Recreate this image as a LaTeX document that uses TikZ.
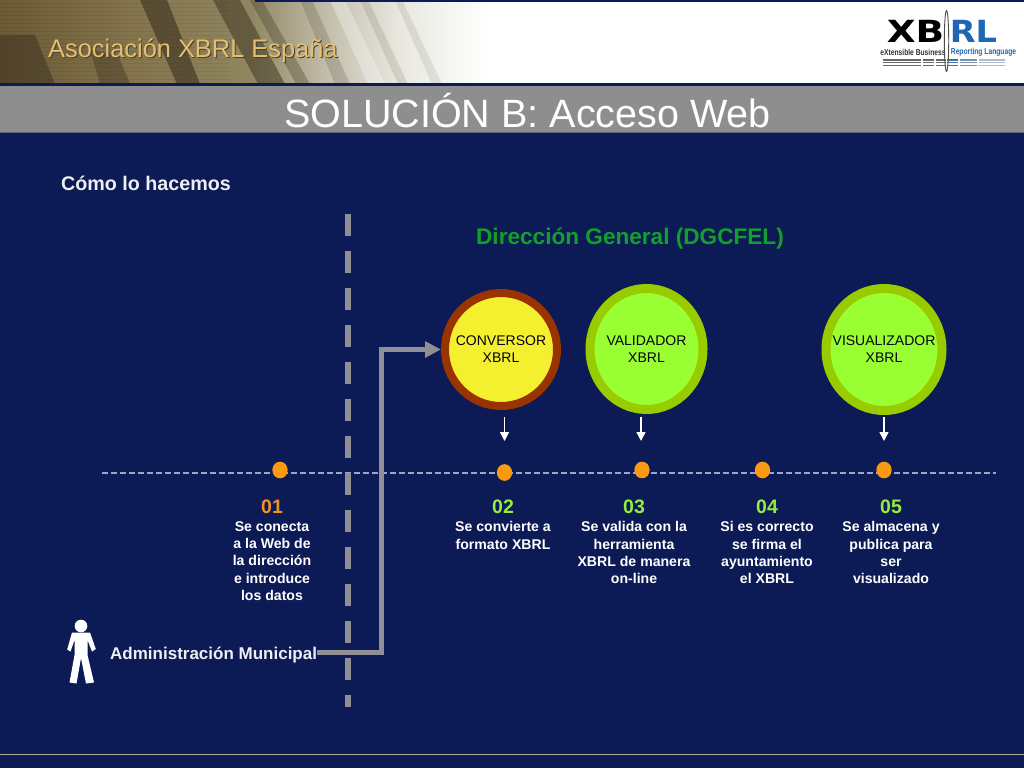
\documentclass[tikz,border=0pt]{standalone}
\usepackage{fontspec}
\setmainfont{Liberation Sans}
\newfontfamily\logofont{DejaVu Sans}
\usetikzlibrary{arrows.meta,calc,shapes.geometric}
\definecolor{navy}{HTML}{0C1A55}
\definecolor{bandgray}{HTML}{8E8E8E}
\definecolor{tanA}{HTML}{6A5A36}
\definecolor{tanB}{HTML}{85764E}
\definecolor{tanC}{HTML}{8F8660}
\definecolor{tanE}{HTML}{C5C0AE}
\definecolor{tanF}{HTML}{E8E8E0}
\definecolor{tanD}{HTML}{3A3020}
\definecolor{gold}{HTML}{E8C06A}
\definecolor{orangedot}{HTML}{FB9A12}
\definecolor{orangenum}{HTML}{EE9420}
\definecolor{greennum}{HTML}{93EE3E}
\definecolor{linegray}{HTML}{8F8F97}
\definecolor{timeline}{HTML}{9FA2C6}
\definecolor{dgreen}{HTML}{12A02C}
\definecolor{limefill}{HTML}{99FF33}
\definecolor{limering}{HTML}{99CC00}
\definecolor{yellowfill}{HTML}{F5F02F}
\definecolor{brownring}{HTML}{993300}
\definecolor{xblue}{HTML}{1F66B5}
\definecolor{xgray}{HTML}{6A6A6A}
\pgfdeclarehorizontalshading{hdrshade}{100bp}{color(0bp)=(tanA); color(25bp)=(tanA); color(39bp)=(tanB); color(50bp)=(tanC); color(58bp)=(tanE); color(65bp)=(tanF); color(74bp)=(white); color(100bp)=(white)}
\tikzset{
  stepdot/.style={ellipse,fill=orangedot,draw=none,minimum width=15.3pt,minimum height=16.7pt,inner sep=0pt},
  stepnum/.style={font=\fontsize{19.5}{21}\selectfont\bfseries,anchor=center},
  stepbody/.style={font=\fontsize{14.1}{17.3}\selectfont\bfseries,text=white,align=center,anchor=north},
  tool/.style={ellipse,inner sep=0pt,line width=9pt,font=\fontsize{14}{17}\selectfont,text=black!85!navy,align=center},
  dropline/.style={draw=white,line width=1.5pt,-{Triangle[length=9pt,width=9pt]}},
  logotext/.style={anchor=center,inner sep=0pt,font=\fontsize{8.6}{9}\selectfont\bfseries}
}
\begin{document}
\begin{tikzpicture}[x=1pt,y=-1pt]
\useasboundingbox (0,0) rectangle (1024,768);
% background
\fill[navy] (0,0) rectangle (1024,768);
% header picture
\fill[white] (0,2) rectangle (1024,83);
\shade[shading=hdrshade] (0,0) rectangle (500,84);
\begin{scope}
\clip (0,0) rectangle (470,84);
\fill[tanD,opacity=.6] (140,0) -- (167,0) -- (200,84) -- (177,84) -- cycle;
\fill[tanD,opacity=.5] (213,0) -- (240,0) -- (285,84) -- (258,84) -- cycle;
\fill[tanD,opacity=.5] (0,35) -- (35,35) -- (55,84) -- (0,84) -- cycle;
\fill[tanD,opacity=.4] (90,50) -- (118,55) -- (130,84) -- (100,84) -- cycle;
\fill[tanD,opacity=.3] (250,0) -- (262,0) -- (310,84) -- (296,84) -- cycle;
\fill[tanD,opacity=.18] (300,0) -- (312,0) -- (350,84) -- (335,84) -- cycle;
\fill[white,opacity=.3] (330,0) -- (345,0) -- (385,84) -- (368,84) -- cycle;
\fill[tanD,opacity=.12] (360,0) -- (368,0) -- (408,84) -- (398,84) -- cycle;
\fill[tanD,opacity=.1] (395,0) -- (402,0) -- (442,84) -- (432,84) -- cycle;
\foreach \yy in {3,7,...,83}{\fill[tanD,opacity=.1] (0,\yy) rectangle (230,\yy+1.4);}
\end{scope}
\fill[navy] (255,0) rectangle (1024,2);
\fill[navy] (0,83) rectangle (1024,86);
\fill[bandgray] (0,86) rectangle (1024,132);
\fill[bandgray!65!navy] (0,132) rectangle (1024,133);
% header texts
\node[anchor=west,text=black!75,font=\fontsize{25.4}{27}\selectfont,inner sep=0pt] (assocs) at (49,51.5) {Asociación XBRL España};
\node[anchor=west,text=gold,font=\fontsize{25.4}{27}\selectfont,inner sep=0pt] (assoc) at (48,50.5) {Asociación XBRL España};
\node[anchor=center,text=white,font=\fontsize{39.5}{41}\selectfont,inner sep=0pt] (title) at (527.5,111) {SOLUCIÓN B: Acceso Web};
% logo
\node[anchor=center,inner sep=0pt,font=\logofont\fontsize{30.5}{31}\selectfont\bfseries,text=black] (logoX) at (915.5,31) {\scalebox{1.23}[1]{XB}};
\node[anchor=center,inner sep=0pt,font=\logofont\fontsize{30.5}{31}\selectfont\bfseries,text=xblue] (logoR) at (973.5,31) {\scalebox{1.1}[1]{RL}};
\node[logotext,text=black!80] (logoA) at (913,52.5) {\scalebox{.78}[1]{eXtensible Business}};
\node[logotext,text=xblue] (logoB) at (983.5,52.5) {\scalebox{.78}[1]{Reporting Language}};
\foreach \yy in {59,61.8,64.6}{
  \fill[xgray] (883,\yy) rectangle (921,\yy+1.5);
  \fill[xgray] (923,\yy) rectangle (934,\yy+1.5);
  \fill[xgray] (936,\yy) rectangle (946,\yy+1.5);
  \fill[xblue!55!gray] (947,\yy) rectangle (958,\yy+1.5);
  \fill[xblue!40!gray!80] (960,\yy) rectangle (977,\yy+1.5);
  \fill[xblue!30!gray!50] (979,\yy) rectangle (1005,\yy+1.5);}
\draw[black!70,line width=.9pt] (946.5,41) ellipse (2.2 and 30.5);
% body headings
\node[anchor=west,inner sep=0pt,text=white!93!navy,font=\fontsize{19.7}{21}\selectfont\bfseries] (como) at (61,183) {Cómo lo hacemos};
\node[anchor=center,inner sep=0pt,text=dgreen,font=\fontsize{22.6}{24}\selectfont\bfseries] (dg) at (630,238.5) {Dirección General (DGCFEL)};
% time line
\coordinate (tlL) at (102,473);
\coordinate (tlR) at (996,473);
\draw[timeline,line width=1.1pt,dash pattern=on 6pt off 3pt] (tlL) -- (tlR);
% vertical dashed separator
\coordinate (septop) at (348.3,214);
\coordinate (sepbot) at (348.3,707);
\draw[linegray,line width=6pt,dash pattern=on 21.5pt off 15.5pt] (septop) -- (sepbot);
% tool circles
\node[tool,line width=8pt,draw=brownring,fill=yellowfill,minimum width=112pt,minimum height=113pt] (conv) at (501,349.5) {\raisebox{-1pt}{\makebox[0pt]{CONVERSOR}}\\\raisebox{-1pt}{\makebox[0pt]{XBRL}}};
\node[tool,draw=limering,fill=limefill,minimum width=113pt,minimum height=121pt] (vali) at (646.5,349) {\raisebox{-1pt}{\makebox[0pt]{VALIDADOR}}\\\raisebox{-1pt}{\makebox[0pt]{XBRL}}};
\node[tool,draw=limering,fill=limefill,minimum width=116pt,minimum height=122pt] (visu) at (884,349.5) {\raisebox{-1pt}{\makebox[0pt]{VISUALIZADOR}}\\\raisebox{-1pt}{\makebox[0pt]{XBRL}}};
% step dots
\node[stepdot] (d1) at (280,470) {};
\node[stepdot] (d2) at (504.5,472.5) {};
\node[stepdot] (d3) at (642,470) {};
\node[stepdot] (d4) at (762.5,470) {};
\node[stepdot] (d5) at (884,470) {};
% drop arrows
\coordinate (a2s) at (504.5,417);
\coordinate (a2e) at (504.5,441);
\coordinate (a3s) at (641,417);
\coordinate (a3e) at (641,441);
\coordinate (a5s) at (884,417);
\coordinate (a5e) at (884,441);
\draw[dropline] (a2s) -- (a2e);
\draw[dropline] (a3s) -- (a3e);
\draw[dropline] (a5s) -- (a5e);
% step labels
\node[stepnum,text=orangenum] (n1) at (272,507) {01};
\node[stepnum,text=greennum] (n2) at (503,507) {02};
\node[stepnum,text=greennum] (n3) at (634,507) {03};
\node[stepnum,text=greennum] (n4) at (767,507) {04};
\node[stepnum,text=greennum] (n5) at (891,507) {05};
\node[stepbody] (b1) at (272,518) {Se conecta\\a la Web de\\la dirección\\e introduce\\los datos};
\node[stepbody] (b2) at (503,518) {Se convierte a\\formato XBRL};
\node[stepbody] (b3) at (634,518) {Se valida con la\\herramienta\\XBRL de manera\\on-line};
\node[stepbody] (b4) at (767,518) {Si es correcto\\se firma el\\ayuntamiento\\el XBRL};
\node[stepbody] (b5) at (891,518) {Se almacena y\\publica para\\ser\\visualizado};
% person
\fill[white] (81,626) circle (6.3);
\fill[white] (72,632.5) -- (90,632.5) -- (95.8,649) -- (92,651.5) -- (87.5,640) -- (87.5,655) -- (94,682.5) -- (86,683.5) -- (81,658) -- (76.5,683.5) -- (69.5,682.5) -- (74.5,655) -- (74.5,640) -- (70.5,651.5) -- (67.2,649.5) -- cycle;
% admin
\node[anchor=west,inner sep=0pt,text=white!93!navy,font=\fontsize{17}{19}\selectfont\bfseries] (admin) at (110,655) {Administración Municipal};
\coordinate (elbow) at (381.7,652.5);
\draw[linegray,line width=5.2pt,-{Triangle[length=16pt,width=15.6pt,inset=0pt]}] (admin.east |- elbow) -- (elbow) -- (elbow |- conv.west) -- (conv.west);
% footer rule
\fill[tanB!60!white] (0,754) rectangle (1024,755);
\end{tikzpicture}
\end{document}
